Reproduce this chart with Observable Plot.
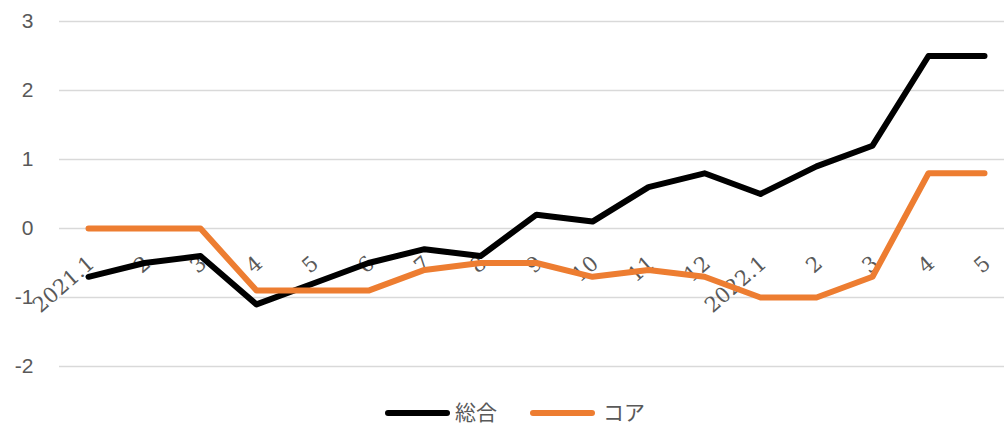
<!DOCTYPE html>
<html>
<head>
<meta charset="utf-8">
<script src="https://cdn.jsdelivr.net/npm/d3@7"></script>
<script src="https://cdn.jsdelivr.net/npm/@observablehq/plot@0.6"></script>
<style>
  html, body { margin: 0; padding: 0; background: #fff; }
  #wrap { position: relative; width: 1004px; height: 428px; }
  #legend { position: absolute; left: 0; top: 394px; width: 1004px; height: 34px; font-family: "Noto Sans CJK JP", sans-serif; font-size: 21px; color: #595959; }
  .sw { position: absolute; height: 6px; border-radius: 3px; top: 16px; }
  .lt { position: absolute; top: 3px; line-height: 28px; }
</style>
</head>
<body>
<div id="wrap">
  <div id="chart"></div>
  <div id="legend"></div>
</div>
<script>
const labels = ["2021.1","2","3","4","5","6","7","8","9","10","11","12","2022.1","2","3","4","5"];
const sogo = [-0.7,-0.5,-0.4,-1.1,-0.8,-0.5,-0.3,-0.4,0.2,0.1,0.6,0.8,0.5,0.9,1.2,2.5,2.5];
const core = [0,0,0,-0.9,-0.9,-0.9,-0.6,-0.5,-0.5,-0.7,-0.6,-0.7,-1.0,-1.0,-0.7,0.8,0.8];
const yTicks = [-2,-1,0,1,2,3];
const seriesNames = ["総合","コア"];
const seriesColors = ["#000000","#ED7D31"];

const rows = labels.map((l, i) => ({i, label: l, sogo: sogo[i], core: core[i]}));

const chart = Plot.plot({
  width: 1004,
  height: 390,
  marginLeft: 59,
  marginRight: 0,
  marginTop: 21,
  marginBottom: 24,
  x: {type: "linear", domain: [-0.518, 16.357], axis: null},
  y: {domain: [-2, 3], axis: null},
  marks: [
    Plot.ruleY(yTicks, {stroke: "#d9d9d9", strokeWidth: 1.5}),
    Plot.text(yTicks, {x: -0.518, y: d => d, text: d => String(d), textAnchor: "end", dx: -26,
      fontSize: 21, fill: "#595959", fontFamily: "Liberation Sans, Arial, sans-serif"}),
    Plot.text(rows, {x: "i", y: () => 0, text: "label", rotate: -41, textAnchor: "end", lineAnchor: "middle",
      dx: 3, dy: 32, fontSize: 21, fill: "#595959", fontFamily: "DejaVu Serif, serif", letterSpacing: 1}),
    Plot.line(rows, {x: "i", y: "sogo", stroke: seriesColors[0], strokeWidth: 6, strokeLinecap: "round", strokeLinejoin: "round"}),
    Plot.line(rows, {x: "i", y: "core", stroke: seriesColors[1], strokeWidth: 6, strokeLinecap: "round", strokeLinejoin: "round"})
  ]
});
document.getElementById("chart").appendChild(chart);

const legend = document.getElementById("legend");
const pos = [{sw: 385, tx: 455}, {sw: 530, tx: 603}];
seriesNames.forEach((n, k) => {
  const s = document.createElement("div");
  s.className = "sw";
  s.style.left = pos[k].sw + "px";
  s.style.width = "65px";
  s.style.background = seriesColors[k];
  legend.appendChild(s);
  const t = document.createElement("div");
  t.className = "lt";
  t.style.left = pos[k].tx + "px";
  t.textContent = n;
  legend.appendChild(t);
});
</script>
</body>
</html>
